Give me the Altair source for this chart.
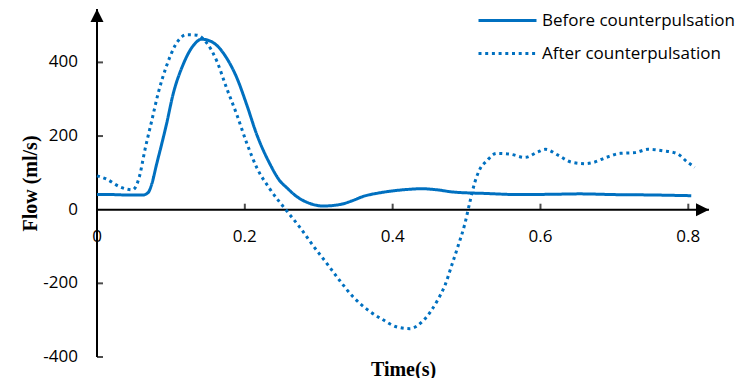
import altair as alt
import pandas as pd

# ---- data ----
t_before = [0, 0.02, 0.04, 0.0626, 0.0694, 0.074, 0.0807, 0.0875, 0.094, 0.103, 0.1167, 0.130,
            0.1416, 0.157, 0.175, 0.189, 0.2024, 0.216, 0.234, 0.2475, 0.2566, 0.270, 0.288,
            0.306, 0.3286, 0.345, 0.360, 0.38, 0.396, 0.42, 0.44, 0.46, 0.482, 0.527, 0.572,
            0.62, 0.653, 0.70, 0.75, 0.804]
v_before = [41, 41, 40, 40, 47, 69, 124, 178, 232, 314, 395, 445,
            463, 454, 413, 359, 286, 205, 124, 78, 60, 36, 17,
            10, 14, 24, 36, 45, 50, 55, 57, 54, 48, 44, 41,
            42, 43, 41, 40, 38]

t_after = [0, 0.013, 0.031, 0.048, 0.057, 0.065, 0.074, 0.083, 0.094, 0.1055, 0.121, 0.135,
           0.148, 0.162, 0.175, 0.189, 0.2024, 0.216, 0.234, 0.2566, 0.2745, 0.2925, 0.3106,
           0.3286, 0.3466, 0.369, 0.387, 0.405, 0.4233, 0.441, 0.4615, 0.4705, 0.4796, 0.4886,
           0.4976, 0.5044, 0.5111, 0.518, 0.527, 0.5405, 0.5585, 0.5788, 0.5967, 0.6067, 0.6238,
           0.642, 0.66, 0.671, 0.689, 0.708, 0.728, 0.7455, 0.766, 0.784, 0.7996, 0.8087]
v_after = [92, 83, 62, 54, 87, 164, 241, 318, 390, 445, 475, 474,
           454, 404, 332, 259, 182, 115, 56, -3, -48, -98, -145,
           -193, -237, -276, -299, -318, -323, -302, -243, -207, -153, -98,
           -39, 20, 74, 110, 132, 153, 151, 142, 157, 164, 148,
           129, 125, 128, 142, 153, 155, 164, 160, 153, 128, 115]

series_names = ["Before counterpulsation", "After counterpulsation"]

x_ticks = [0.2, 0.4, 0.6, 0.8]
x_tick_values = [0, 0.2, 0.4, 0.6, 0.8]
x_tick_labels = ["0", "0.2", "0.4", "0.6", "0.8"]
y_ticks = [400, 200, -200, -400]
y_tick_values = [400, 200, 0, -200, -400]
y_tick_labels = ["400", "200", "0", "-200", "-400"]

x_max = 0.828
y_min, y_max = -400, 545

BLUE = "#0070C0"
LABEL_FONT = "Open Sans"
TITLE_FONT = "Liberation Serif"

# ---- tables ----
df = pd.concat([
    pd.DataFrame({"t": t_before, "v": v_before, "series": series_names[0], "order": range(len(t_before))}),
    pd.DataFrame({"t": t_after, "v": v_after, "series": series_names[1], "order": range(len(t_after))}),
])

xs = alt.Scale(domain=[0, x_max], nice=False, zero=False)
ys = alt.Scale(domain=[y_min, y_max], nice=False, zero=False)

x_axis = alt.Axis(title="Time(s)", domain=False, ticks=False, labels=False, grid=False,
                  titleFont=TITLE_FONT, titleFontSize=20, titleFontWeight="bold",
                  titleColor="black", titleY=12, titleBaseline="middle")
y_axis = alt.Axis(title="Flow (ml/s)", domain=False, ticks=False, labels=False, grid=False,
                  titleFont=TITLE_FONT, titleFontSize=20, titleFontWeight="bold",
                  titleColor="black", titleAngle=270, titleX=-67, titleY=174,
                  titleAlign="center", titleBaseline="middle")


def X(field="t"):
    return alt.X(f"{field}:Q", scale=xs, axis=x_axis)


def Y(field="v"):
    return alt.Y(f"{field}:Q", scale=ys, axis=y_axis)


# legend symbol: a 58px horizontal line drawn by a compact (20px) symbol
lines = alt.Chart(df).mark_line(strokeWidth=3, color=BLUE, interpolate="monotone").encode(
    x=X(), y=Y(),
    order="order:Q",
    strokeDash=alt.StrokeDash(
        "series:N",
        scale=alt.Scale(domain=series_names, range=[[1, 0], [3, 3.7]]),
        legend=alt.Legend(
            title=None, orient="none", legendX=399, legendY=0,
            symbolType="M-2.9,0L2.9,0", symbolSize=400, symbolStrokeWidth=3,
            symbolStrokeColor=BLUE, labelFont=LABEL_FONT, labelFontSize=17,
            labelColor="black", labelOffset=23, labelLimit=400, rowPadding=13,
            padding=0, offset=0,
        ),
    ),
)

yaxis_line = alt.Chart(pd.DataFrame({"t": [0], "v": [y_min], "v2": [y_max]})).mark_rule(
    strokeWidth=2, color="black").encode(x=X(), y=Y(), y2="v2:Q")
xaxis_line = alt.Chart(pd.DataFrame({"t": [0], "t2": [x_max], "v": [0]})).mark_rule(
    strokeWidth=2, color="black").encode(x=X(), x2="t2:Q", y=Y())

up_arrow = alt.Chart(pd.DataFrame({"t": [0], "v": [y_max]})).mark_point(
    shape="M0,-1L1,1L-1,1Z", size=169, filled=True, color="black", opacity=1, yOffset=6.5
).encode(x=X(), y=Y())
right_arrow = alt.Chart(pd.DataFrame({"t": [x_max], "v": [0]})).mark_point(
    shape="M1,0L-1,-1L-1,1Z", size=169, filled=True, color="black", opacity=1, xOffset=-6.5
).encode(x=X(), y=Y())

y_tick_marks = alt.Chart(pd.DataFrame({"t": [0] * len(y_ticks), "v": y_ticks})).mark_tick(
    orient="horizontal", size=6, thickness=2, color="black", xOffset=3
).encode(x=X(), y=Y())
x_tick_marks = alt.Chart(pd.DataFrame({"t": x_ticks, "v": [0] * len(x_ticks)})).mark_tick(
    orient="vertical", size=6, thickness=2, color="black", yOffset=-3
).encode(x=X(), y=Y())

y_labels = alt.Chart(pd.DataFrame({"t": [0] * len(y_tick_values), "v": y_tick_values,
                                   "label": y_tick_labels})).mark_text(
    align="right", baseline="middle", dx=-19, font=LABEL_FONT, fontSize=17, color="black"
).encode(x=X(), y=Y(), text="label:N")
x_labels = alt.Chart(pd.DataFrame({"t": x_tick_values, "v": [0] * len(x_tick_values),
                                   "label": x_tick_labels})).mark_text(
    align="center", baseline="middle", dy=27, font=LABEL_FONT, fontSize=17, color="black"
).encode(x=X(), y=Y(), text="label:N")

chart = alt.layer(
    yaxis_line, xaxis_line, up_arrow, right_arrow, y_tick_marks, x_tick_marks,
    y_labels, x_labels, lines,
).properties(
    width=612, height=348,
    autosize=alt.AutoSizeParams(type="none"),
    padding={"left": 89, "top": 1, "right": 28, "bottom": 21},
    background="white",
).configure_view(stroke="transparent")

chart.save("out.html", embed_options={"renderer": "svg", "actions": False})
